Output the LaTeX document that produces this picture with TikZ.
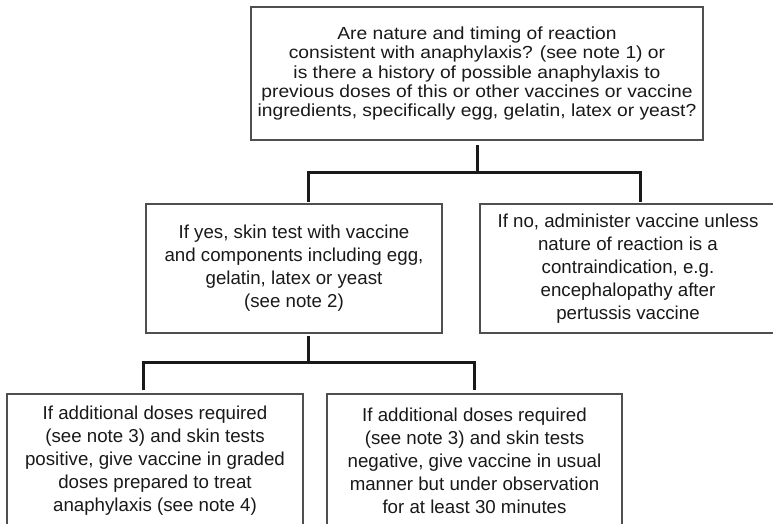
\documentclass[tikz,border=0pt]{standalone}
\usepackage{fontspec}
\setmainfont{Liberation Sans}
\newfontfamily\widefont[FakeStretch=1.1]{Liberation Sans}
\definecolor{ink}{HTML}{1A1818}
\definecolor{frame}{HTML}{4F4F4F}
\begin{document}
\begin{tikzpicture}[x=1pt,y=-1pt,
  box/.style={draw=frame, line width=1.3pt, text=ink, align=center,
    inner sep=0pt, minimum width=296pt, minimum height=130pt,
    font=\fontsize{18.7}{23}\selectfont},
  conn/.style={draw=ink, line width=3pt}]
\useasboundingbox (0,0) rectangle (773,524);
\clip (0,0) rectangle (773,524);

% question box
\node[box, minimum width=452pt, minimum height=133pt,
  font=\widefont\fontsize{17.5}{19.3}\selectfont] (q) at (477,73.5)
  {Are nature and timing of reaction\\
   consistent with anaphylaxis? (see note 1) or\\
   is there a history of possible anaphylaxis to\\
   previous doses of this or other vaccines or vaccine\\
   ingredients, specifically egg, gelatin, latex or yeast?};

% first-level answers
\node[box, minimum height=129pt] (yes) at (294,268.5)
  {If yes, skin test with vaccine\\
   and components including egg,\\
   gelatin, latex or yeast\\
   (see note 2)};
\node[box, minimum height=129pt] (no) at (628,268.5)
  {If no, administer vaccine unless\\
   nature of reaction is a\\
   contraindication, e.g.\\
   encephalopathy after\\
   pertussis vaccine};

% skin-test outcomes
\node[box, minimum height=134pt] (pos) at (155,461)
  {If additional doses required\\
   (see note 3) and skin tests\\
   positive, give vaccine in graded\\
   doses prepared to treat\\
   anaphylaxis (see note 4)};
\node[box, minimum width=295pt, minimum height=134pt] (neg) at (474.5,461)
  {If additional doses required\\
   (see note 3) and skin tests\\
   negative, give vaccine in usual\\
   manner but under observation\\
   for at least 30 minutes};

% branching connectors
\coordinate (j1) at (477,172);
\coordinate (yesin) at (308,202);
\coordinate (noin) at (640,202);
\draw[conn, shorten <=4pt] (q.south) -- (j1);
\draw[conn] (yesin) -- (yesin |- j1) -- (noin |- j1) -- (noin);

\coordinate (j2) at (308,362);
\coordinate (posin) at (143,390);
\coordinate (negin) at (474,390);
\draw[conn, shorten <=2pt] (yes.south -| j2) -- (j2);
\draw[conn] (posin) -- (posin |- j2) -- (negin |- j2) -- (negin);
\end{tikzpicture}
\end{document}
